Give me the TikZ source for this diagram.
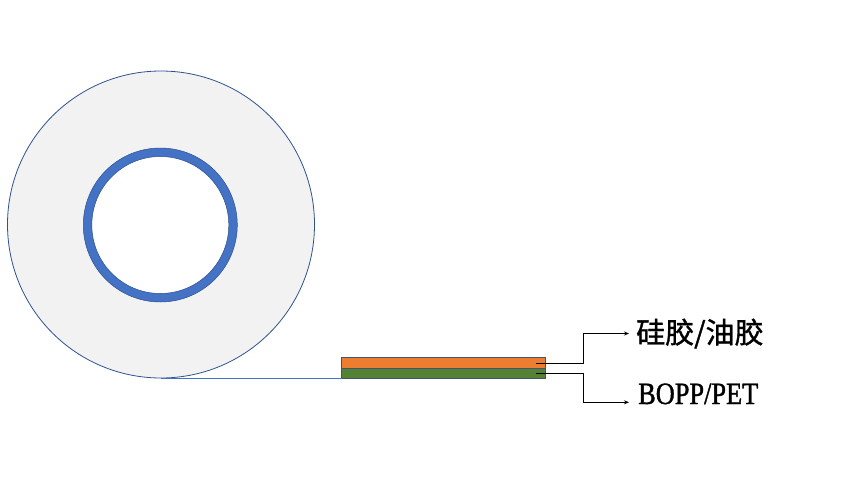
\documentclass[tikz,border=0pt]{standalone}
\usepackage{fontspec}
\usetikzlibrary{arrows.meta,calc}
\newfontfamily\cjkfont[FakeBold=1.2]{Noto Sans CJK SC}
\newfontfamily\latfont[FakeStretch=0.85,FakeBold=1.2]{Liberation Serif}
\definecolor{rollfill}{HTML}{F2F2F2}
\definecolor{rolledge}{HTML}{2F528F}
\definecolor{coreblue}{HTML}{4472C4}
\definecolor{adhesive}{HTML}{ED7D31}
\definecolor{film}{HTML}{548235}
\definecolor{stripedge}{HTML}{44546A}
\tikzset{
  layer/.style={rectangle, draw=stripedge, line width=0.9pt, minimum width=204pt, inner sep=0pt, outer sep=0pt, anchor=north west},
  conn/.style={draw=black, line width=0.9pt, -{Stealth[length=5pt,width=4pt]}},
  lbl/.style={inner ysep=0pt, text=black}
}
\begin{document}
\begin{tikzpicture}[x=1pt,y=-1pt]
\useasboundingbox (0,0) rectangle (863,482);
\node[circle, draw=rolledge, fill=rollfill, line width=0.8pt, minimum size=307pt, inner sep=0pt] (roll) at (161,224.5) {};
\node[circle, draw=coreblue, fill=white, line width=8.5pt, minimum size=145.5pt, inner sep=0pt] (core) at (160.3,225) {};
\draw[rolledge, line width=0.5pt] (core.center) circle[radius=77] (core.center) circle[radius=68.5];
\node[layer, fill=adhesive, minimum height=10.6pt] (adh) at (341.7,357.7) {};
\node[layer, fill=film, minimum height=10pt] (pet) at (adh.south west) {};
\draw[coreblue, line width=1.6pt] (roll.south) -- (roll.south -| pet.west);
\node[lbl, anchor=west, inner xsep=7pt] (lab1) at (629,333.5) {\cjkfont\fontsize{29}{34}\selectfont 硅胶/油胶};
\node[lbl, anchor=base west, inner xsep=9pt] (lab2) at (629,404) {\latfont\fontsize{31}{36}\selectfont BOPP/PET};
\coordinate (a1) at ($(adh.east)+(-10,0)$);
\coordinate (a2) at ($(pet.east)+(-10,0)$);
\coordinate (j) at (583.3,0);
\draw[conn] (a1) -- (a1 -| j) |- (lab1.west);
\draw[conn] (a2) -- (a2 -| j) |- ($(lab2.base west)+(0,-1.7)$);
\end{tikzpicture}
\end{document}
